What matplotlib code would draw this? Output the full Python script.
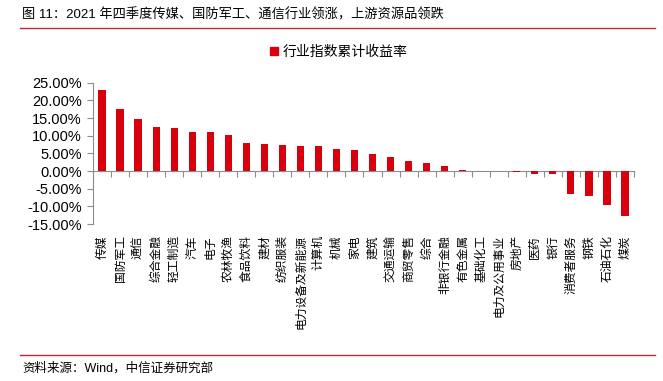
import matplotlib
matplotlib.use("Agg")
import matplotlib.pyplot as plt
from matplotlib.lines import Line2D
import numpy as np

plt.rcParams['font.family'] = ['Noto Sans CJK SC', 'DejaVu Sans']

categories = ['传媒', '国防军工', '通信', '综合金融', '轻工制造', '汽车', '电子', '农林牧渔',
              '食品饮料', '建材', '纺织服装', '电力设备及新能源', '计算机', '机械', '家电', '建筑',
              '交通运输', '商贸零售', '综合', '非银行金融', '有色金属', '基础化工', '电力及公用事业',
              '房地产', '医药', '银行', '消费者服务', '钢铁', '石油石化', '煤炭']
values = [22.8, 17.6, 14.6, 12.6, 12.3, 11.1, 11.0, 10.1, 7.8, 7.7, 7.3, 7.0, 7.0, 6.1,
          5.9, 4.7, 4.0, 2.8, 2.2, 1.3, 0.3, 0.08, 0.05, -0.35, -0.85, -0.95, -6.4, -7.2, -9.6, -12.7]
yticks = [-15, -10, -5, 0, 5, 10, 15, 20, 25]
series_name = '行业指数累计收益率'
title = '图 11：2021 年四季度传媒、国防军工、通信行业领涨，上游资源品领跌'
source = '资料来源：Wind，中信证券研究部'

RED = '#d9000d'
GRAY = '#8c8c8c'
MIXED = ['Liberation Sans', 'Noto Sans CJK SC', 'DejaVu Sans']

fig = plt.figure(figsize=(6.63, 3.81), dpi=100)
ax = fig.add_axes([93/663, 1-224/381, (634-93)/663, (224-82.7)/381])

x = np.arange(len(categories))
ax.bar(x, values, width=0.4, color=RED, zorder=3)

ax.set_xlim(-0.5, len(categories) - 0.5)
ax.set_ylim(-15, 25)
ax.set_yticks(yticks)
ax.set_yticklabels([f'{v:.2f}%' for v in yticks], family=['Liberation Sans', 'DejaVu Sans'],
                   fontsize=10.5)
ax.tick_params(axis='y', direction='out', length=4, color=GRAY, pad=4, labelcolor='black')

for s in ['top', 'right']:
    ax.spines[s].set_visible(False)
ax.spines['left'].set_color(GRAY)
ax.spines['left'].set_linewidth(0.8)
ax.spines['bottom'].set_position(('data', 0))
ax.spines['bottom'].set_color(GRAY)
ax.spines['bottom'].set_linewidth(0.8)

# boundary ticks on the zero line
ax.set_xticks(np.arange(len(categories) + 1) - 0.5)
ax.set_xticklabels([])
ax.tick_params(axis='x', direction='out', length=4, color=GRAY)

# category labels at the bottom of the axes
sec = ax.secondary_xaxis(0)
sec.set_xticks(x)
sec.set_xticklabels(categories, rotation=90, fontsize=8.5, va='top', ha='center')
sec.tick_params(axis='x', length=0, pad=8)
sec.spines['bottom'].set_visible(False)

# legend
handle = Line2D([], [], marker='s', linestyle='none', markersize=6, color=RED)
fig.legend([handle], [series_name], loc='center', bbox_to_anchor=(338/663, 1-52/381),
           frameon=False, fontsize=10, handletextpad=0.2, handlelength=0.8)

# title and decorations
fig.text(22/663, 1-15/381, title, fontsize=9.5, va='center', ha='left', family=MIXED)
fig.add_artist(Line2D([20/663, 655/663], [1-28/381, 1-28/381], color='#c0282d', lw=1.0))
fig.add_artist(Line2D([20/663, 655/663], [1-355/381, 1-355/381], color='#c0282d', lw=1.0))
fig.text(22/663, 1-368/381, source, fontsize=9, va='center', ha='left', family=MIXED)

fig.savefig('out.png', dpi=100)
